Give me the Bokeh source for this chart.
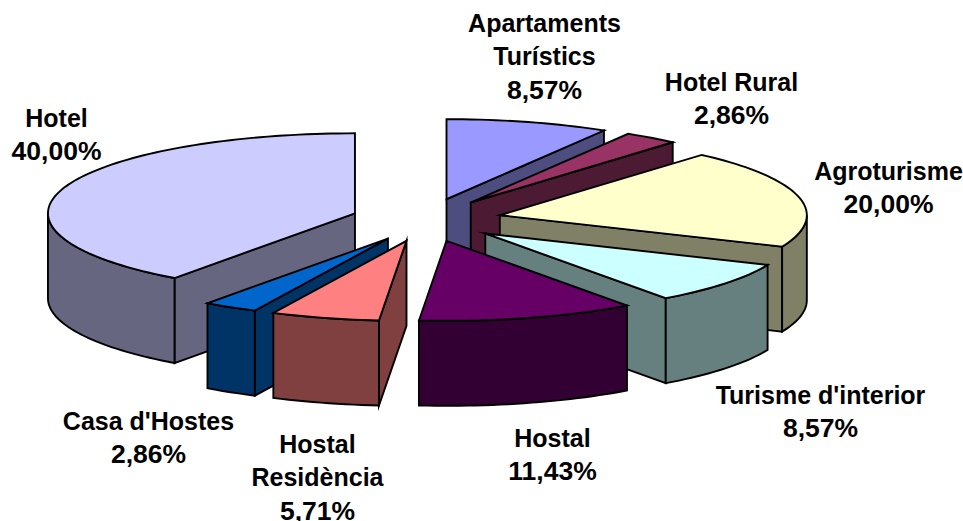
import math
from bokeh.plotting import figure
from bokeh.models import Range1d, ColumnDataSource
from bokeh.core.properties import value
from bokeh.embed import file_html
from bokeh.resources import INLINE

categories = ["Apartaments Turístics", "Hotel Rural", "Agroturisme", "Turisme d'interior",
              "Hostal", "Hostal Residència", "Casa d'Hostes", "Hotel"]
percent = [8.57, 2.86, 20.00, 8.57, 11.43, 5.71, 2.86, 40.00]
percent_labels = ["8,57%", "2,86%", "20,00%", "8,57%", "11,43%", "5,71%", "2,86%", "40,00%"]
top_colors = ["#9999FF", "#993366", "#FFFFCC", "#CCFFFF", "#660066", "#FF8080", "#0066CC", "#CCCCFF"]
wall_colors = ["#4D4D80", "#4D1A33", "#808066", "#668080", "#330033", "#804040", "#003366", "#666680"]

# label layout: lines, centre x, first line position
label_lines = [["Apartaments", "Turístics"], ["Hotel Rural"], ["Agroturisme"], ["Turisme d'interior"],
               ["Hostal"], ["Hostal", "Residència"], ["Casa d'Hostes"], ["Hotel"]]
label_x = [544, 731, 888, 820, 552, 317, 148, 56]
label_y = [22, 81, 170, 394, 437, 443, 420, 117]
line_step = 33.7

# projection of the pie (pixels of the page)
CX, CY, A, B, DEPTH, EXPLODE_X, EXPLODE_Y = 426, 219.5, 307, 80, 85, 0.245, 0.27
draw_order = [0, 1, 2, 3, 4, 7, 6, 5]

p = figure(width=963, height=521, x_range=Range1d(0, 963), y_range=Range1d(521, 0),
           x_axis_location=None, y_axis_location=None, toolbar_location=None,
           output_backend="svg", min_border=0, outline_line_color=None,
           background_fill_color="white", border_fill_color="white")
p.grid.visible = False


def pt(cx, cy, deg):
    r = math.radians(deg)
    return cx + A * math.sin(r), cy - B * math.cos(r)


def arc(cx, cy, t1, t2):
    n = max(2, int(abs(t2 - t1) / 1.5) + 1)
    return [pt(cx, cy, t1 + (t2 - t1) * i / (n - 1)) for i in range(n)]


def patch(points, color):
    p.patch([q[0] for q in points], [q[1] for q in points], fill_color=color,
            line_color="black", line_width=1.9, line_join="miter")


total = sum(percent)
starts, acc = [], 0.0
for v in percent:
    starts.append(acc / total * 360)
    acc += v

for i in draw_order:
    t1 = starts[i]
    t2 = t1 + percent[i] / total * 360
    mid = math.radians((t1 + t2) / 2)
    cx = CX + EXPLODE_X * A * math.sin(mid)
    cy = CY - EXPLODE_Y * B * math.cos(mid)
    # cut faces that look towards the viewer
    for t, visible in ((t1, 180 <= t1 < 360), (t2, 0 < t2 <= 180)):
        if visible:
            x, y = pt(cx, cy, t)
            patch([(cx, cy), (x, y), (x, y + DEPTH), (cx, cy + DEPTH)], wall_colors[i])
    # outer rim
    a, b = max(t1, 90), min(t2, 270)
    if a < b:
        rim = arc(cx, cy, a, b)
        patch(rim + [(x, y + DEPTH) for x, y in reversed(rim)], wall_colors[i])
    # top
    patch([(cx, cy)] + arc(cx, cy, t1, t2), top_colors[i])

xs, ys, texts, sizes = [], [], [], []
for i in range(len(categories)):
    lines = label_lines[i] + [percent_labels[i]]
    for k, line in enumerate(lines):
        xs.append(label_x[i])
        ys.append(label_y[i] + k * line_step)
        texts.append(line)
        sizes.append("26.5px" if k == len(lines) - 1 else "25px")
p.text(x="x", y="y", text="t", text_font_size="s",
       source=ColumnDataSource(dict(x=xs, y=ys, t=texts, s=sizes)),
       text_font=value("Liberation Sans"), text_font_style="bold",
       text_align="center", text_baseline="alphabetic", text_color="black")

open("out.html", "w").write(file_html(p, INLINE))
